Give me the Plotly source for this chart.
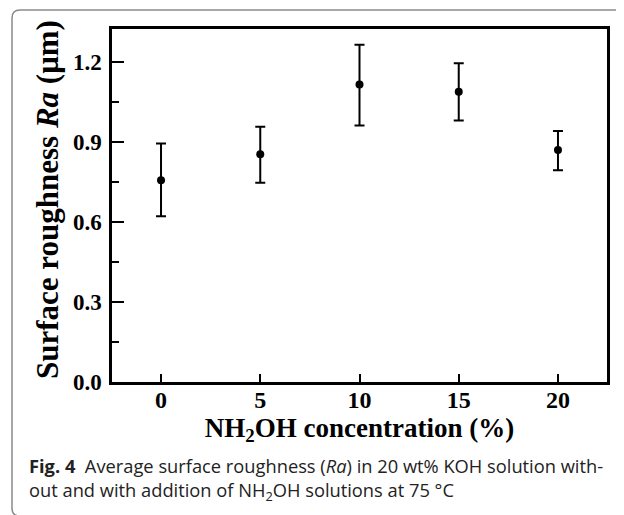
import plotly.graph_objects as go

# Data
conc = [0, 5, 10, 15, 20]
ra = [0.757, 0.854, 1.116, 1.089, 0.870]
err_plus = [0.138, 0.103, 0.149, 0.107, 0.071]
err_minus = [0.135, 0.107, 0.154, 0.108, 0.076]
x_ticks = [0, 5, 10, 15, 20]
y_ticks = [0.0, 0.3, 0.6, 0.9, 1.2]

# page body has an 8px default margin; work in screen pixels and subtract it
OFF = 8
W, H = 624 - OFF, 515 - OFF
PL, PR, PT, PB = 112, 607, 29, 382  # plot area in screen pixels
L, R, T, B = PL - OFF, W - (PR - OFF), PT - OFF, H - (PB - OFF)
PW, PH = W - L - R, H - T - B


def px(x):
    return (x - OFF - L) / PW


def py(y):
    return (H - B - (y - OFF)) / PH


serif = "Liberation Serif, Times New Roman, serif"
sans = "Open Sans, Noto Sans, sans-serif"

fig = go.Figure()
fig.add_trace(go.Scatter(
    x=conc, y=ra, mode="markers",
    marker=dict(color="black", size=8, symbol="circle"),
    error_y=dict(type="data", symmetric=False, array=err_plus, arrayminus=err_minus,
                 color="black", thickness=2, width=5),
    showlegend=False,
))

fig.update_layout(
    width=W, height=H,
    margin=dict(l=L, r=R, t=T, b=B, autoexpand=False),
    paper_bgcolor="white", plot_bgcolor="white",
    font=dict(family=serif, color="black"),
)

fig.update_xaxes(
    range=[-2.47, 22.47], tickmode="array", tickvals=x_ticks,
    ticktext=[str(v) for v in x_ticks],
    ticks="inside", ticklen=8, tickwidth=2, tickcolor="black",
    ticklabelstandoff=-6,
    tickfont=dict(family=serif, size=24, weight="bold"),
    showline=True, linewidth=2.5, linecolor="black", mirror=True,
    showgrid=False, zeroline=False, automargin=False,
    title=dict(text="NH<sub>2</sub>OH concentration (%)",
               font=dict(family=serif, size=27, weight="bold"), standoff=5),
)
fig.update_yaxes(
    range=[0, 1.324], tickmode="array", tickvals=y_ticks,
    ticktext=["%.1f" % v for v in y_ticks],
    ticks="inside", ticklen=12, tickwidth=2, tickcolor="black",
    ticklabelstandoff=3,
    tickfont=dict(family=serif, size=23, weight="bold"),
    minor=dict(ticks="inside", ticklen=7, tickwidth=2, tickcolor="black", dtick=0.15,
               showgrid=False),
    showline=True, linewidth=2.5, linecolor="black", mirror=True,
    showgrid=False, zeroline=False, automargin=False,
)

# Y-axis title placed as rotated text
fig.add_annotation(
    xref="paper", yref="paper", x=px(47), y=py(200), xanchor="center", yanchor="middle",
    text="Surface roughness <i>Ra</i> (μm)", textangle=-90, showarrow=False,
    font=dict(family=serif, size=31, weight="bold", color="black"),
)

# Card border (rounded rectangle, partly off-canvas)
r = 8
x0, y0, x1, y1 = 12, 10, 640, 516
path = (f"M {px(x1)},{py(y0)} L {px(x0 + r)},{py(y0)} "
        f"Q {px(x0)},{py(y0)} {px(x0)},{py(y0 + r)} "
        f"L {px(x0)},{py(y1 - r)} Q {px(x0)},{py(y1)} {px(x0 + r)},{py(y1)}")
fig.add_shape(type="path", path=path, xref="paper", yref="paper",
              line=dict(color="#8a8a8a", width=1.5), layer="below")

# Caption (two lines in one text block)
fig.add_annotation(
    xref="paper", yref="paper", x=px(27), y=py(479), xanchor="left", yanchor="middle",
    text=("<b>Fig. 4</b>  Average surface roughness (<i>Ra</i>) in 20 wt% KOH solution with-"
          "<br>out and with addition of NH<sub>2</sub>OH solutions at 75 °C"),
    showarrow=False, font=dict(family=sans, size=18.3, color="#222222"), align="left",
)

fig.write_html("out.html")
